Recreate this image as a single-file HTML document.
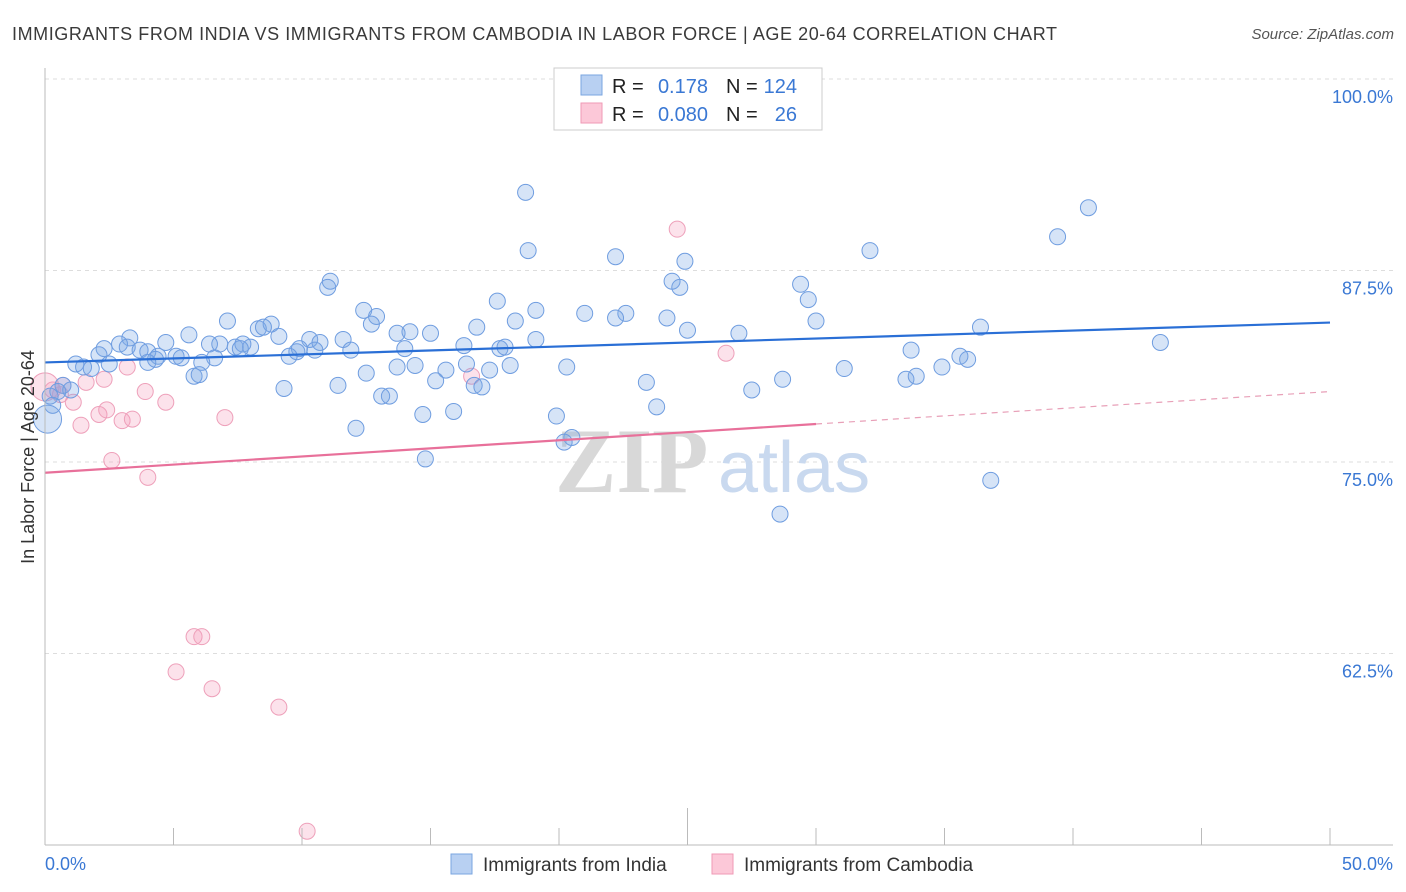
<!DOCTYPE html>
<html><head><meta charset="utf-8"><style>
body{margin:0;background:#fff;font-family:"Liberation Sans",sans-serif;}
svg{display:block}
</style></head><body>
<svg id="chart" width="1406" height="892" viewBox="0 0 1406 892" xmlns="http://www.w3.org/2000/svg">
<text x="12" y="40" font-size="18" fill="#3a3a3a" textLength="1045" lengthAdjust="spacing">IMMIGRANTS FROM INDIA VS IMMIGRANTS FROM CAMBODIA IN LABOR FORCE | AGE 20-64 CORRELATION CHART</text>
<text x="1394" y="39" font-size="15" fill="#555" font-style="italic" text-anchor="end">Source: ZipAtlas.com</text>
<g id="grid"></g>
<g><text x="555" y="492" font-size="92" font-family="Liberation Serif,serif" fill="#d8d8d8" font-weight="bold">ZIP</text><text x="718" y="492" font-size="72" fill="#c9d9ef">atlas</text></g>
<g id="marks"></g>
<g id="axes"></g>
<text transform="translate(34,457) rotate(-90)" font-size="18" fill="#333" text-anchor="middle">In Labor Force | Age 20-64</text>
<g>
<rect x="554" y="68" width="268" height="62" fill="#fff" stroke="#ccc"/>
<rect x="581" y="75" width="21" height="20" fill="#b8d0f2" stroke="#7aa6e0"/>
<rect x="581" y="103" width="21" height="20" fill="#fcc8d8" stroke="#ef9ab6"/>
<text x="612" y="93" font-size="20" fill="#222">R =</text><text x="708" y="93" font-size="20" fill="#3a78d4" text-anchor="end">0.178</text>
<text x="726" y="93" font-size="20" fill="#222">N =</text><text x="797" y="93" font-size="20" fill="#3a78d4" text-anchor="end">124</text>
<text x="612" y="121" font-size="20" fill="#222">R =</text><text x="708" y="121" font-size="20" fill="#3a78d4" text-anchor="end">0.080</text>
<text x="726" y="121" font-size="20" fill="#222">N =</text><text x="797" y="121" font-size="20" fill="#3a78d4" text-anchor="end">26</text>
</g>
<g>
<rect x="451" y="854" width="21" height="20" fill="#b8d0f2" stroke="#7aa6e0"/>
<text x="483" y="871" font-size="19" fill="#333">Immigrants from India</text>
<rect x="712" y="854" width="21" height="20" fill="#fcc8d8" stroke="#ef9ab6"/>
<text x="744" y="871" font-size="19" fill="#333">Immigrants from Cambodia</text>
</g>
</svg>
<script>
const yTicks=[100,87.5,75,62.5];
const yTickLabels=["100.0%","87.5%","75.0%","62.5%"];
const xAxisLabels=["0.0%","50.0%"];
const indiaX=[18.7,40.6,18.8,39.4,22.2,32.1,24.9,11.1,11.0,24.4,24.7,29.4,29.7,17.6,19.1,21.0,22.6,22.2,24.2,12.4,12.9,12.7,7.1,16.8,18.3,30.0,36.4,25.0,27.0,15.0,14.2,13.7,8.8,8.3,8.5,9.1,5.6,3.3,4.7,6.8,6.4,7.4,7.7,8.0,10.3,10.7,11.6,10.5,9.9,9.8,9.5,11.9,14.0,16.3,17.7,17.9,19.1,43.4,33.7,35.6,35.9,2.3,2.9,3.2,3.7,4.0,4.4,4.3,5.1,5.3,2.1,1.2,1.5,1.8,2.5,4.0,6.6,6.1,7.6,13.7,14.4,15.6,16.4,17.3,18.1,20.3,31.1,34.9,5.8,6.0,12.5,15.2,16.7,17.0,23.4,28.7,33.5,33.9,9.3,11.4,13.1,13.4,27.5,0.7,1.0,0.5,0.2,0.3,14.7,15.9,19.9,23.8,12.1,20.5,20.2,14.8,36.8,28.6,0.1];
const indiaY=[92.6,91.6,88.8,89.7,88.4,88.8,88.1,86.8,86.4,86.8,86.4,86.6,85.6,85.5,84.9,84.7,84.7,84.4,84.4,84.9,84.5,84.0,84.2,83.8,84.2,84.2,83.8,83.6,83.4,83.4,83.5,83.4,84.0,83.7,83.8,83.2,83.3,83.1,82.8,82.7,82.7,82.5,82.7,82.5,83.0,82.8,83.0,82.3,82.4,82.2,81.9,82.3,82.4,82.6,82.4,82.5,83.0,82.8,82.3,81.9,81.7,82.4,82.7,82.5,82.3,82.2,81.9,81.7,81.9,81.8,82.0,81.4,81.2,81.1,81.4,81.5,81.8,81.5,82.4,81.2,81.3,81.0,81.4,81.0,81.3,81.2,81.1,81.2,80.6,80.7,80.8,80.3,80.0,79.9,80.2,80.4,80.4,80.6,79.8,80.0,79.3,79.3,79.7,80.0,79.7,79.6,79.3,78.7,78.1,78.3,78.0,78.6,77.2,76.6,76.3,75.2,73.8,71.6,77.8];
const cambX=[24.6,26.5,3.2,2.3,1.6,0.7,0.3,0.6,3.9,1.1,4.7,2.1,2.4,3.0,3.4,7.0,1.4,2.6,4.0,16.6,5.8,6.1,5.1,6.5,9.1,10.2,0.0];
const cambY=[90.2,82.1,81.2,80.4,80.2,80.0,79.7,79.4,79.6,78.9,78.9,78.1,78.4,77.7,77.8,77.9,77.4,75.1,74.0,80.6,63.6,63.6,61.3,60.2,59.0,50.9,79.9];
const indiaTrend=[81.5,84.1];
const cambTrend=[74.3,79.6];
const cambSolidEnd=30;

const NS="http://www.w3.org/2000/svg";
const X0=45,X1=1330,Y100=79,Y50=845;
const sx=v=>X0+(v/50)*(X1-X0);
const sy=v=>Y100+(100-v)/50*(Y50-Y100);
function el(tag,attrs,parent){const e=document.createElementNS(NS,tag);for(const k in attrs)e.setAttribute(k,attrs[k]);parent.appendChild(e);return e;}
const grid=document.getElementById('grid'),marks=document.getElementById('marks'),axes=document.getElementById('axes');
yTicks.forEach((t,i)=>{
  const g=el('line',{x1:45,x2:1393,y1:sy(t),y2:sy(t),stroke:'#ddd','stroke-dasharray':'4,4'},grid);
  
  
  const tx=el('text',{x:1393,y:sy(t)+24,'font-size':18,fill:'#3a78d4','text-anchor':'end'},axes);
  tx.textContent=yTickLabels[i];
  
  
});
const ax=el('line',{x1:45,x2:45,y1:68,y2:845,stroke:'#bbb'},axes);


const bx=el('line',{x1:45,x2:1393,y1:845,y2:845,stroke:'#bbb'},axes);


for(let i=0;i<=10;i++){
  const v=i*5;
  const t=el('line',{x1:sx(v),x2:sx(v),y1:(i==5?808:828),y2:845,stroke:'#bbb'},axes);
  
  
}
const xl0=el('text',{x:45,y:870,'font-size':18,fill:'#3a78d4'},axes);xl0.textContent=xAxisLabels[0];


const xl1=el('text',{x:1393,y:870,'font-size':18,fill:'#3a78d4','text-anchor':'end'},axes);xl1.textContent=xAxisLabels[1];



cambX.forEach((x,i)=>{
  const r=(i==cambX.length-1)?14:8;
  const c=el('circle',{cx:sx(x),cy:sy(cambY[i]),r:r,fill:'rgba(244,160,190,0.3)',stroke:'#eea0ba','stroke-width':1},marks);
  
  
});
indiaX.forEach((x,i)=>{
  const r=(i==indiaX.length-1)?14:8;
  const c=el('circle',{cx:sx(x),cy:sy(indiaY[i]),r:r,fill:'rgba(120,165,230,0.3)',stroke:'#6f9de0','stroke-width':1},marks);
  
  
});
const ly=x=>indiaTrend[0]+(indiaTrend[1]-indiaTrend[0])*x/50;
const lc=x=>cambTrend[0]+(cambTrend[1]-cambTrend[0])*x/50;
const t1=el('line',{x1:sx(0),y1:sy(ly(0)),x2:sx(50),y2:sy(ly(50)),stroke:'#2a6fd6','stroke-width':2.2},marks);


const t2=el('line',{x1:sx(0),y1:sy(lc(0)),x2:sx(cambSolidEnd),y2:sy(lc(cambSolidEnd)),stroke:'#e8709a','stroke-width':2.2},marks);


const t3=el('line',{x1:sx(cambSolidEnd),y1:sy(lc(cambSolidEnd)),x2:sx(50),y2:sy(lc(50)),stroke:'#e8a0b8','stroke-width':1.2,'stroke-dasharray':'6,5'},marks);


</script>
</body></html>
